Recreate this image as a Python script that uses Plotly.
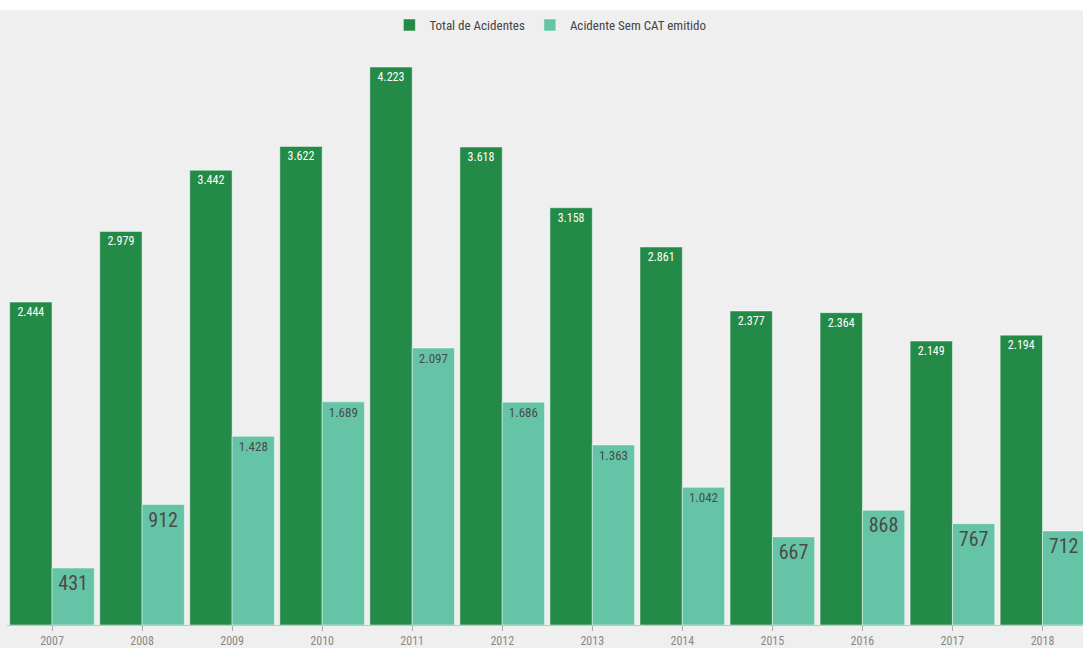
import plotly.graph_objects as go

years = ["2007", "2008", "2009", "2010", "2011", "2012", "2013", "2014", "2015", "2016", "2017", "2018"]
total = [2444, 2979, 3442, 3622, 4223, 3618, 3158, 2861, 2377, 2364, 2149, 2194]
sem_cat = [431, 912, 1428, 1689, 2097, 1686, 1363, 1042, 667, 868, 767, 712]

def fmt(v):
    return f"{v:,}".replace(",", ".")

FONT = "Roboto Condensed, Liberation Sans Narrow, Roboto, sans-serif"

fig = go.Figure()
fig.add_trace(go.Bar(
    x=years, y=total, name="Total de Acidentes",
    marker=dict(color="#248a47", line=dict(color="rgba(255,255,255,0.45)", width=1)),
    text=[fmt(v) for v in total], textposition="inside", insidetextanchor="end",
    textfont=dict(color="white", size=12, family=FONT), textangle=0,
))
fig.add_trace(go.Bar(
    x=years, y=sem_cat, name="Acidente Sem CAT emitido",
    marker=dict(color="#66c4a6", line=dict(color="rgba(255,255,255,0.45)", width=1)),
    text=[fmt(v) for v in sem_cat], textposition="inside", insidetextanchor="end",
    textfont=dict(color="#4a4a4a", size=[20 if v < 1000 else 13 for v in sem_cat], family=FONT),
    textangle=0,
))

fig.update_layout(
    width=1083, height=648,
    margin=dict(l=7, r=0, t=40, b=23),
    paper_bgcolor="#efefef", plot_bgcolor="#efefef",
    barmode="group", bargap=0.06, bargroupgap=0.0,
    font=dict(family=FONT, color="#555"),
    showlegend=True,
    legend=dict(orientation="h", x=0.505, xanchor="center", y=1.0, yanchor="bottom",
                font=dict(size=13, color="#444", family=FONT), bgcolor="rgba(0,0,0,0)"),
    uniformtext=dict(mode=False),
    shapes=[dict(type="rect", xref="paper", yref="paper", x0=-0.1, x1=1.1, y0=1.0 + 30/585, y1=1.2,
                 fillcolor="white", line=dict(width=0), layer="below")],
)
fig.update_xaxes(type="category", range=[-0.5, 11.45], showline=True, linecolor="#c4c4c4", linewidth=1,
                 ticks="outside", ticklen=5, tickcolor="#aaaaaa", automargin=False,
                 tickfont=dict(size=12, color="#888", family=FONT), showgrid=False)
fig.update_yaxes(range=[0, 4428], visible=False, showgrid=False)

fig.write_html("out.html")
